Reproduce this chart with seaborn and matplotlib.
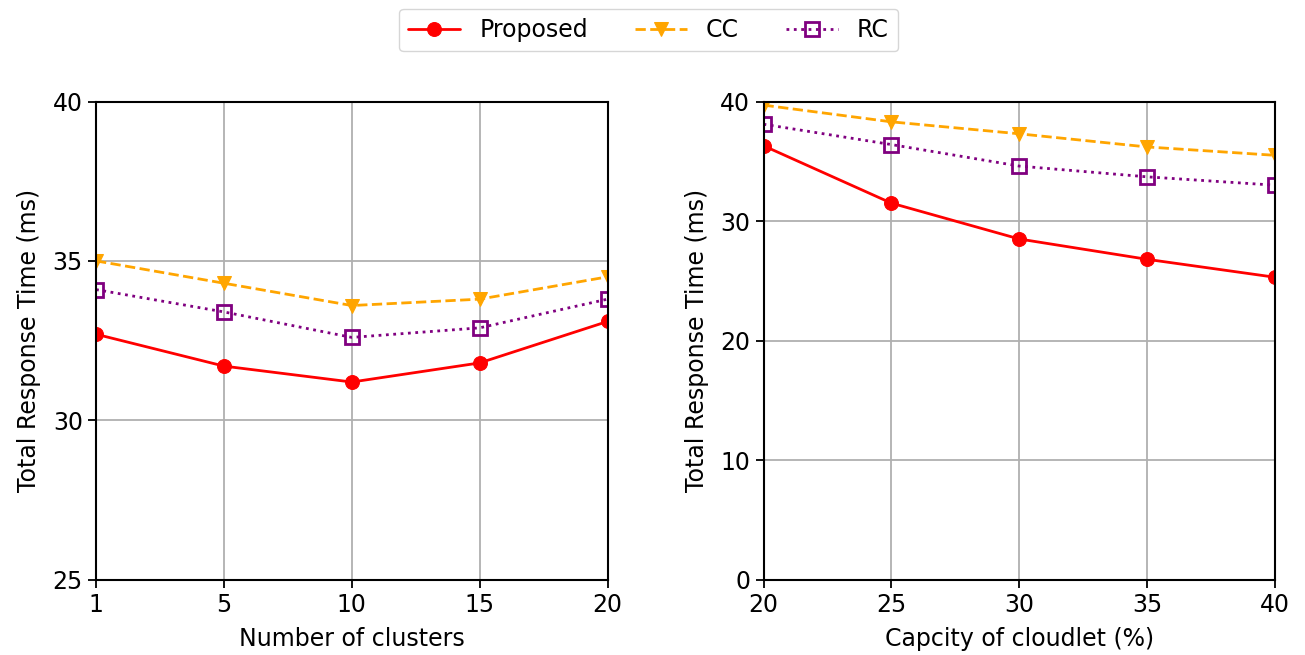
import numpy as np
import pandas as pd
import matplotlib
matplotlib.use("Agg")
import matplotlib.pyplot as plt
import seaborn as sns

clusters = ["1", "5", "10", "15", "20"]
proposed_clusters = [32.7, 31.7, 31.2, 31.8, 33.1]
cc_clusters = [35.0, 34.3, 33.6, 33.8, 34.5]
rc_clusters = [34.1, 33.4, 32.6, 32.9, 33.8]

capacity = [20, 25, 30, 35, 40]
proposed_capacity = [36.3, 31.5, 28.5, 26.8, 25.3]
cc_capacity = [39.7, 38.3, 37.3, 36.2, 35.5]
rc_capacity = [38.1, 36.4, 34.6, 33.7, 33.0]

series_names = ["Proposed", "CC", "RC"]
colors = {"Proposed": "red", "CC": "orange", "RC": "purple"}
styles = {"Proposed": ("o", "-"), "CC": ("v", "--"), "RC": ("s", ":")}

sns.set_style("ticks")
plt.rcParams["font.family"] = ["DejaVu Sans"]
plt.rcParams["font.size"] = 17
for k in ["text.color", "axes.labelcolor", "xtick.color", "ytick.color", "axes.edgecolor"]:
    plt.rcParams[k] = "black"

fig, axes = plt.subplots(1, 2, figsize=(13.05, 6.55), dpi=100)
fig.subplots_adjust(left=0.0736, right=0.977, bottom=0.115, top=0.845, wspace=0.305)

def draw(ax, xvals, data):
    for name, vals in zip(series_names, data):
        mk, ls = styles[name]
        df = pd.DataFrame({"x": xvals, "y": vals})
        kw = dict(markersize=10)
        if name == "RC":
            kw.update(markerfacecolor="none", markeredgecolor="purple", markeredgewidth=2.0)
        else:
            kw.update(markeredgecolor=colors[name])
        sns.lineplot(data=df, x="x", y="y", ax=ax, color=colors[name], marker=mk,
                     linestyle=ls, linewidth=2.0, label=name, **kw)

pos = np.arange(len(clusters))
draw(axes[0], pos, [proposed_clusters, cc_clusters, rc_clusters])
axes[0].set_xticks(pos)
axes[0].set_xticklabels(clusters)
axes[0].set_xlim(pos[0], pos[-1])
axes[0].set_ylim(25, 40)
axes[0].set_yticks([25, 30, 35, 40])
axes[0].set_xlabel("Number of clusters", labelpad=7)
axes[0].set_ylabel("Total Response Time (ms)", labelpad=8)

draw(axes[1], capacity, [proposed_capacity, cc_capacity, rc_capacity])
axes[1].set_xticks(capacity)
axes[1].set_xlim(20, 40)
axes[1].set_ylim(0, 40)
axes[1].set_yticks([0, 10, 20, 30, 40])
axes[1].set_xlabel("Capcity of cloudlet (%)", labelpad=7)
axes[1].set_ylabel("Total Response Time (ms)", labelpad=8)

for ax in axes:
    ax.grid(True, color="#b0b0b0", linewidth=1.3)
    ax.set_axisbelow(True)
    for s in ax.spines.values():
        s.set_visible(True)
        s.set_linewidth(1.5)
        s.set_color("black")
    ax.tick_params(labelsize=17, width=1.3, length=6, colors="black")
    ax.xaxis.label.set_size(17)
    ax.yaxis.label.set_size(17)

handles, labels = axes[0].get_legend_handles_labels()
for ax in axes:
    ax.get_legend().remove()
fig.legend(handles, labels, loc="upper center", bbox_to_anchor=(0.497, 1.005), ncol=3,
           fontsize=17, frameon=True, columnspacing=2.0, handlelength=2.2,
           edgecolor="#cccccc")

fig.savefig("out.png", dpi=100)
